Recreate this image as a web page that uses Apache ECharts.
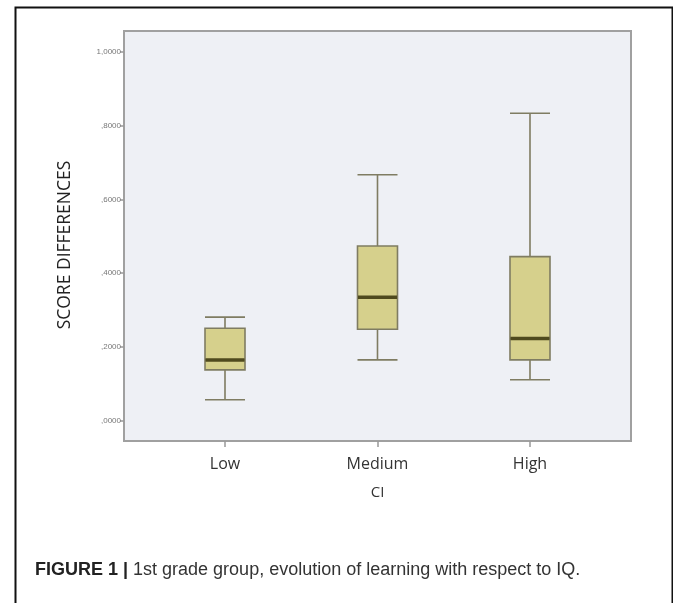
<!DOCTYPE html>
<html>
<head>
<meta charset="utf-8">
<script src="https://cdn.jsdelivr.net/npm/echarts@6/dist/echarts.min.js"></script>
<style>
html,body{margin:0;padding:0;background:#fff;}
#c{width:673px;height:603px;}
</style>
</head>
<body>
<div id="c"></div>
<script>
// Data
const categories = ['Low', 'Medium', 'High'];
// [min, Q1, median, Q3, max]
const lowBox    = [0.057, 0.138, 0.165, 0.251, 0.281];
const mediumBox = [0.165, 0.248, 0.335, 0.474, 0.667];
const highBox   = [0.111, 0.165, 0.223, 0.445, 0.834];
const yTicks = [0, 0.2, 0.4, 0.6, 0.8, 1.0];
const yTitle = 'SCORE DIFFERENCES';
const xTitle = 'CI';

const boxes = [lowBox, mediumBox, highBox];
const medians = boxes.map((b, i) => [categories[i], b[2]]);

const yMin = -0.055, yMax = 1.057;
const fmt = v => (Math.abs(v - 1) < 1e-9 ? '1,0000' : ',' + v.toFixed(4).split('.')[1]);

const chart = echarts.init(document.getElementById('c'), null, {renderer: 'canvas'});
chart.setOption({
  animation: false,
  backgroundColor: '#ffffff',
  title: {
    left: 30, top: 556,
    text: '{b|FIGURE 1 |} {n|1st grade group, evolution of learning with respect to IQ.}',
    textStyle: {
      rich: {
        b: {fontFamily: 'Liberation Sans', fontWeight: 'bold', fontSize: 18, color: '#222'},
        n: {fontFamily: 'Liberation Sans', fontWeight: 'normal', fontSize: 18, color: '#333'}
      }
    }
  },
  graphic: [{
    type: 'rect', left: 13, top: 5, z: -10,
    shape: {width: 657, height: 620},
    style: {fill: 'none', stroke: '#111', lineWidth: 2}
  }],
  grid: [
    {left: 124, top: 31, width: 507, height: 410, show: true,
     backgroundColor: '#eef0f5', borderColor: '#a0a0a0', borderWidth: 2, z: 0},
    {left: 148.75, top: 31, width: 457.5, height: 410}
  ],
  xAxis: [
    {gridIndex: 0, type: 'value', min: 0, max: 1, show: false},
    {gridIndex: 1, type: 'category', data: categories,
     axisLine: {show: false, onZero: false},
     axisTick: {show: true, alignWithLabel: true, length: 6, lineStyle: {color: '#999', width: 1.5}},
     axisLabel: {color: '#333', fontSize: 16, fontFamily: 'Open Sans', margin: 15},
     name: xTitle, nameLocation: 'middle', nameGap: 44,
     nameTextStyle: {color: '#333', fontSize: 15, fontFamily: 'Open Sans'}}
  ],
  yAxis: [
    {gridIndex: 0, type: 'value', min: yMin, max: yMax,
     axisLine: {show: false},
     splitLine: {show: false},
     axisTick: {show: true, length: 4, customValues: yTicks, lineStyle: {color: '#999', width: 1.5}},
     axisLabel: {show: true, customValues: yTicks, formatter: fmt, color: '#777', fontSize: 8, margin: 3},
     name: yTitle, nameLocation: 'middle', nameGap: 50, nameRotate: 90,
     nameTextStyle: {color: '#222', fontSize: 17.5, fontFamily: 'Open Sans', padding: [0, 18, 0, 0]}},
    {gridIndex: 1, type: 'value', min: yMin, max: yMax, show: false, splitLine: {show: false}}
  ],
  series: [
    {type: 'boxplot', xAxisIndex: 1, yAxisIndex: 1,
     data: boxes, boxWidth: [40, 40],
     itemStyle: {color: '#d6d08c', borderColor: '#7f7c62', borderWidth: 1.6},
     z: 3},
    {type: 'scatter', xAxisIndex: 1, yAxisIndex: 1,
     data: medians, symbol: 'rect', symbolSize: [39, 3.5],
     itemStyle: {color: '#4f4a1e', opacity: 1}, z: 4, silent: true}
  ]
});
</script>
</body>
</html>
